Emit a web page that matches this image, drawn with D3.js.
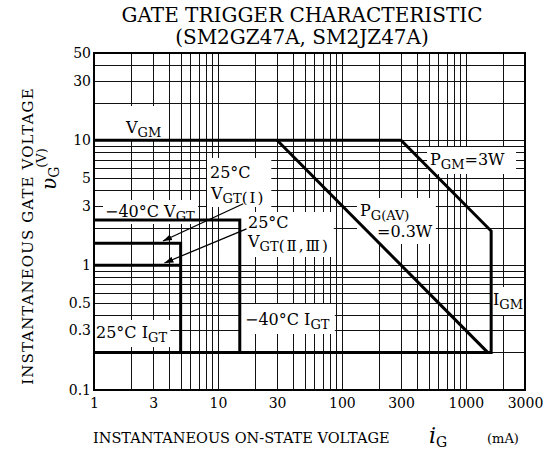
<!DOCTYPE html>
<html>
<head>
<meta charset="utf-8">
<script src="https://cdn.jsdelivr.net/npm/d3@7"></script>
<style>
  body { margin: 0; background: #fff; }
  text { font-family: "DejaVu Serif", "Liberation Serif", serif; fill: #000; }
</style>
</head>
<body>
<div id="chart"></div>
<script>
// tick labels
const xTicks = [1, 3, 10, 30, 100, 300, 1000, 3000];
const yTicks = [0.1, 0.3, 0.5, 1, 3, 5, 10, 30, 50];

// characteristic lines (iG mA, vG V)
const outerLimit = [[1, 10], [300, 10], [1600, 1.875], [1600, 0.2], [1, 0.2]]; // VGM, PGM, IGM
const pgAvLine = [[30, 10], [1500, 0.2]];
const vgtMinus40 = [[1, 2.3], [15, 2.3], [15, 0.2]];
const vgt25I = [[1, 1.5], [5, 1.5], [5, 0.2]];
const vgt25II = [[1, 1], [5, 1]];
const arrowI = [[16, 3.1], [3.6, 1.56]];
const arrowII = [[17, 1.95], [3.7, 1.04]];

const W = 551, H = 457;
const margin = { top: 53, right: 26, bottom: 67, left: 94 };

const svg = d3.select("#chart").append("svg")
    .attr("width", W).attr("height", H);

const x = d3.scaleLog().domain([1, 3000]).range([margin.left, W - margin.right]);
const y = d3.scaleLog().domain([0.1, 50]).range([H - margin.bottom, margin.top]);

// title
svg.append("text").attr("x", 302).attr("y", 22).attr("text-anchor", "middle")
    .style("font-size", "20px").text("GATE TRIGGER CHARACTERISTIC");
svg.append("text").attr("x", 302).attr("y", 44).attr("text-anchor", "middle")
    .style("font-size", "20px").text("(SM2GZ47A, SM2JZ47A)");

// grid, every 1..9 per decade
let gx = [], gy = [];
for (let e = 0; e <= 3; e++) for (let k = 1; k <= 9; k++) {
    let v = k * Math.pow(10, e);
    if (v > 1 && v < 3000) gx.push(v);
}
for (let e = -1; e <= 1; e++) for (let k = 1; k <= 9; k++) {
    let v = k * Math.pow(10, e);
    if (v > 0.1 && v < 50) gy.push(v);
}
const grid = svg.append("g").attr("stroke", "#111").attr("stroke-width", 1)
    .attr("shape-rendering", "crispEdges");
grid.selectAll(".vx").data(gx).enter().append("line")
    .attr("x1", d => Math.round(x(d)) + 0.5).attr("x2", d => Math.round(x(d)) + 0.5)
    .attr("y1", y(0.1)).attr("y2", y(50));
grid.selectAll(".hy").data(gy).enter().append("line")
    .attr("y1", d => Math.round(y(d)) + 0.5).attr("y2", d => Math.round(y(d)) + 0.5)
    .attr("x1", x(1)).attr("x2", x(3000));

// labels with white boxes; each line: [x, y, parts], part: [text, kind]
const boxes = svg.append("g");
const labels = svg.append("g");
const FS = 16, SUB = 13;
function label(lines, pad) {
    let x0 = Infinity, y0 = Infinity, x1 = -Infinity, y1 = -Infinity;
    lines.forEach(([px, py, parts]) => {
        let t = labels.append("text").attr("x", px).attr("y", py).style("font-size", FS + "px");
        let shift = 0;
        parts.forEach(p => {
            let ts = t.append("tspan").text(p[0]);
            if (p[1] === "sub") {
                ts.style("font-size", SUB + "px").attr("dy", 4 - shift);
                shift = 4;
            } else if (p[1] === "subp") {
                ts.style("font-size", "15px").style("letter-spacing", "2px").attr("dy", 4 - shift);
                shift = 4;
            } else {
                if (shift) ts.attr("dy", -shift);
                shift = 0;
            }
        });
        let b = t.node().getBBox();
        x0 = Math.min(x0, b.x); y0 = Math.min(y0, b.y);
        x1 = Math.max(x1, b.x + b.width); y1 = Math.max(y1, b.y + b.height);
    });
    boxes.append("rect")
        .attr("x", x0 - pad[0]).attr("y", y0 - pad[1])
        .attr("width", x1 - x0 + pad[0] + pad[2]).attr("height", y1 - y0 + pad[1] + pad[3])
        .attr("fill", "#fff");
}

label([[126, 133, [["V"], ["GM", "sub"]]]], [6, 12, 5, 0]);
label([[210, 178, [["25°C"]]], [211, 199, [["V"], ["GT", "sub"], ["(Ⅰ)", "subp"]]]], [3, 5, 6, 0]);
label([[105, 217, [["−40°C V"], ["GT", "sub"]]]], [2, 2, 3, 0]);
label([[248, 228, [["25°C"]]], [248, 247, [["V"], ["GT", "sub"], ["(Ⅱ,Ⅲ)", "subp"]]]], [6, 1, 4, 2]);
label([[245, 325, [["−40°C I"], ["GT", "sub"]]]], [5, 6, 5, 2]);
label([[96, 338, [["25°C I"], ["GT", "sub"]]]], [1, 3, 3, 2]);
label([[430, 165, [["P"], ["GM", "sub"], ["=3W"]]]], [3, 3, 11, 2]);
label([[360, 216, [["P"], ["G(AV)", "sub"]]], [377, 237, [["=0.3W"]]]], [3, 3, 3, 3]);
label([[493, 305, [["I"], ["GM", "sub"]]]], [1, 3, 1, 3]);

// characteristic curves
const line = d3.line().x(d => x(d[0])).y(d => y(d[1]));
const curves = svg.append("g").attr("fill", "none").attr("stroke", "#000")
    .attr("stroke-width", 3).attr("stroke-linejoin", "miter");
[outerLimit, pgAvLine, vgtMinus40, vgt25I, vgt25II].forEach(d => {
    curves.append("path").attr("d", line(d));
});

// arrows
svg.append("defs").append("marker").attr("id", "ah")
    .attr("viewBox", "0 0 10 10").attr("refX", 10).attr("refY", 5)
    .attr("markerWidth", 9).attr("markerHeight", 9).attr("markerUnits", "userSpaceOnUse")
    .attr("orient", "auto")
    .append("path").attr("d", "M0,1.5 L10,5 L0,8.5 Z").attr("fill", "#000");
[arrowI, arrowII].forEach(d => {
    svg.append("path").attr("d", line(d)).attr("stroke", "#000").attr("stroke-width", 1.3)
        .attr("fill", "none").attr("marker-end", "url(#ah)");
});

// frame
svg.append("rect").attr("x", x(1)).attr("y", y(50))
    .attr("width", x(3000) - x(1)).attr("height", y(0.1) - y(50))
    .attr("fill", "none").attr("stroke", "#000").attr("stroke-width", 2);

// axes
svg.append("g").attr("transform", `translate(0,${y(0.1)})`)
    .call(d3.axisBottom(x).tickValues(xTicks).tickSize(0).tickPadding(8).tickFormat(d => String(d)))
    .call(g => g.select(".domain").remove())
    .selectAll("text").style("font-size", "14px").style("font-family", "DejaVu Serif");
svg.append("g").attr("transform", `translate(${x(1)},0)`)
    .call(d3.axisLeft(y).tickValues(yTicks).tickSize(0).tickPadding(3).tickFormat(d => String(d)))
    .call(g => g.select(".domain").remove())
    .selectAll("text").style("font-size", "14px").style("font-family", "DejaVu Serif");

// axis titles
const xt = svg.append("text").attr("x", 93).attr("y", 443).style("font-size", "14.5px");
xt.append("tspan").text("INSTANTANEOUS ON-STATE VOLTAGE");
xt.append("tspan").attr("x", 429).style("font-size", "22px").style("font-style", "italic").text("i");
xt.append("tspan").attr("dy", 4).style("font-size", "14px").text("G");
xt.append("tspan").attr("x", 487).attr("dy", -4).style("font-size", "13px").text("(mA)");

svg.append("text").attr("transform", "translate(33,236) rotate(-90)")
    .attr("text-anchor", "middle").style("font-size", "15px").style("letter-spacing", "1.1px")
    .text("INSTANTANEOUS GATE VOLTAGE");
svg.append("text").attr("transform", "translate(46,158) rotate(-90)")
    .attr("text-anchor", "middle").style("font-size", "13px").text("(V)");
const vt = svg.append("text").attr("transform", "translate(56,190) rotate(-90)")
    .style("font-size", "13px");
vt.append("tspan").style("font-size", "20px").style("font-style", "italic").text("υ");
vt.append("tspan").attr("dy", 3).style("font-size", "14px").text("G");
</script>
</body>
</html>
